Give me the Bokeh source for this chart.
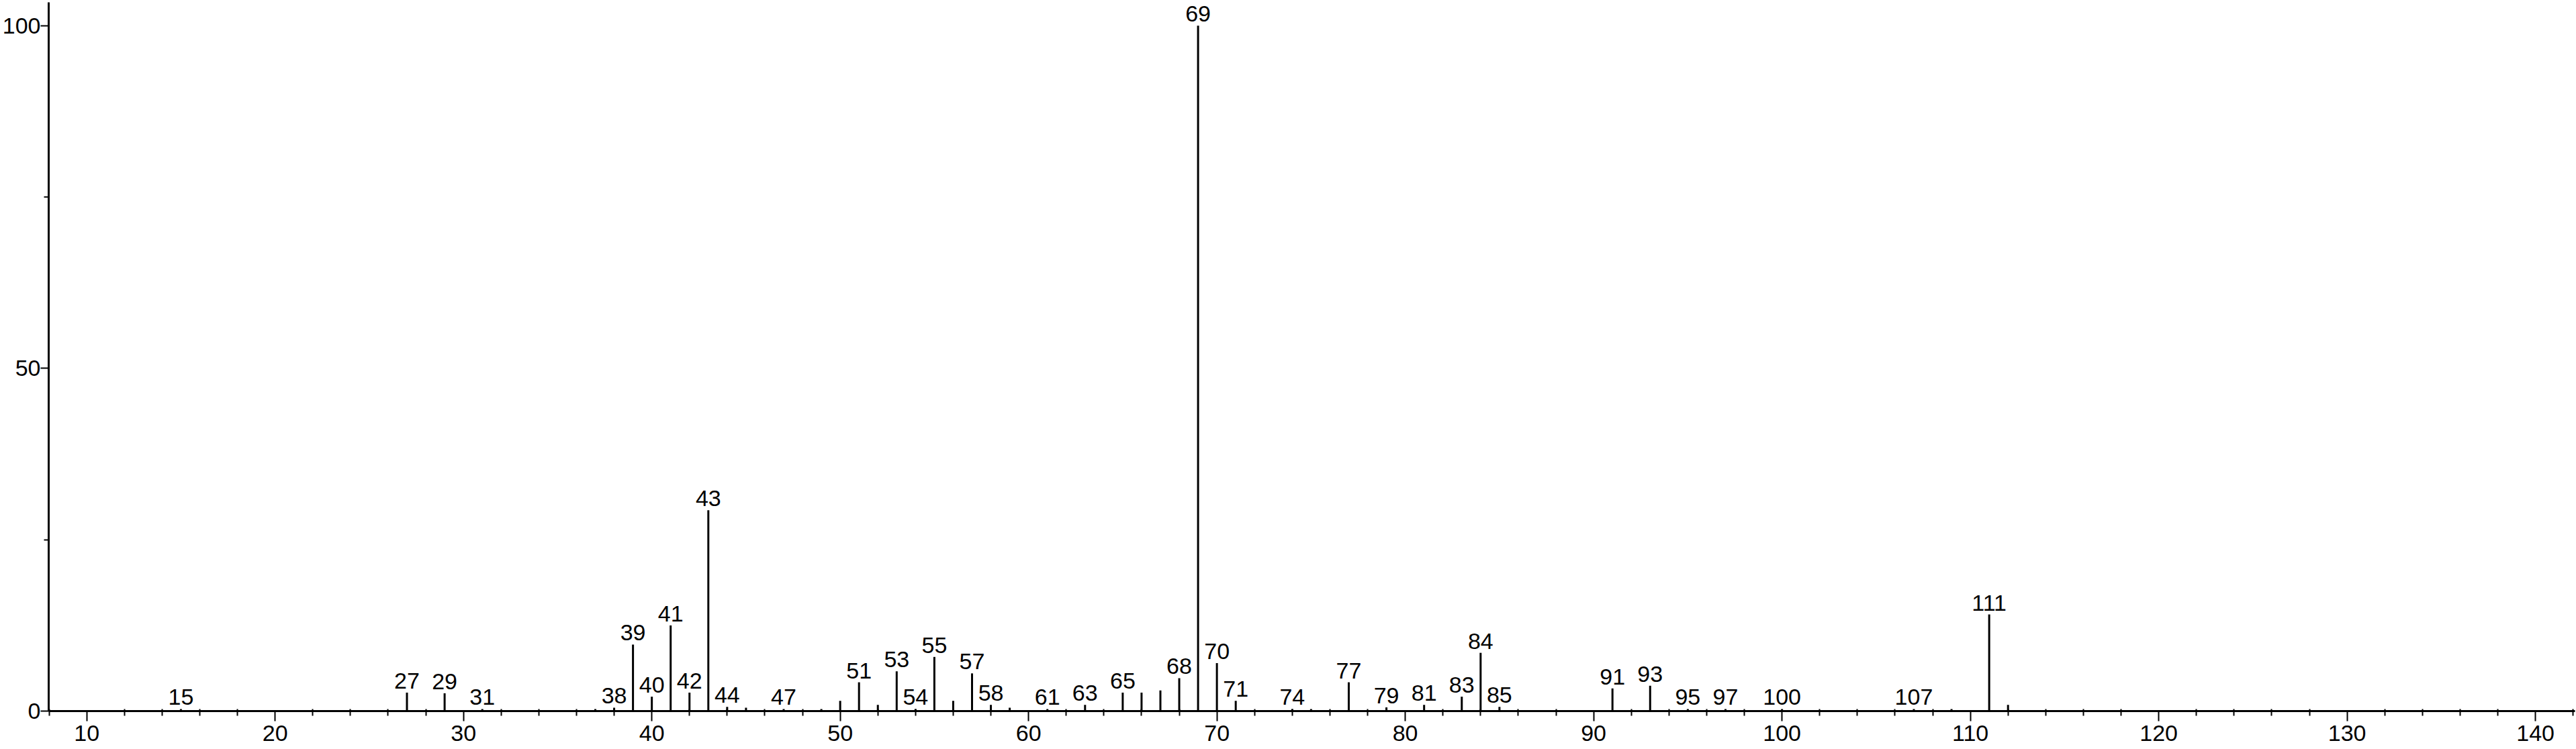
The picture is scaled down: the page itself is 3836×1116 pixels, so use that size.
from bokeh.plotting import figure
from bokeh.models import ColumnDataSource, LabelSet, FixedTicker, Range1d
from bokeh.core.properties import value
from bokeh.embed import file_html
from bokeh.resources import INLINE

# m/z values and relative intensities (%)
mz = [15, 27, 29, 31, 37, 38, 39, 40, 41, 42, 43, 44, 45, 47, 49, 50, 51, 52, 53, 54,
      55, 56, 57, 58, 59, 61, 63, 65, 66, 67, 68, 69, 70, 71, 74, 75, 77, 79, 81, 83,
      84, 85, 91, 93, 95, 97, 100, 107, 109, 111, 112]
intensity = [0.3, 2.7, 2.6, 0.3, 0.3, 0.5, 9.7, 2.1, 12.5, 2.7, 29.3, 0.6, 0.5, 0.3, 0.3, 1.5, 4.2, 0.9, 5.8, 0.3,
             7.9, 1.5, 5.5, 0.9, 0.5, 0.3, 0.9, 2.7, 2.7, 3.0, 4.8, 100.0, 7.0, 1.5, 0.3, 0.3, 4.2, 0.55, 0.9, 2.1,
             8.5, 0.6, 3.3, 3.7, 0.3, 0.3, 0.3, 0.3, 0.3, 14.1, 0.9]

# peaks that carry an m/z label
label_mz = [15, 27, 29, 31, 38, 39, 40, 41, 42, 43, 44, 47, 51, 53, 54, 55, 57, 58, 61, 63,
            65, 68, 69, 70, 71, 74, 77, 79, 81, 83, 84, 85, 91, 93, 95, 97, 100, 107, 111]

x_ticks = [10, 20, 30, 40, 50, 60, 70, 80, 90, 100, 110, 120, 130, 140]
x_minor = [v for v in range(8, 143, 2) if v % 10 != 0]
y_ticks = [0, 50, 100]
y_minor = [25, 75]

FONT = "Liberation Sans"
FS = "34px"

lookup = dict(zip(mz, intensity))
lab_src = ColumnDataSource(dict(x=label_mz, y=[lookup[m] for m in label_mz],
                                text=[str(m) for m in label_mz]))

p = figure(width=3836, height=1116, output_backend="svg", toolbar_location=None,
           x_range=Range1d(7.98, 142.1), y_range=Range1d(0, 103.4),
           min_border_left=69, min_border_right=2, min_border_top=3, min_border_bottom=57)
p.background_fill_color = "white"
p.border_fill_color = "white"
p.outline_line_color = None
p.grid.visible = False

p.segment(x0=mz, y0=[0] * len(mz), x1=mz, y1=intensity, line_color="black", line_width=3)

labels = LabelSet(x="x", y="y", text="text", source=lab_src, text_align="center",
                  text_baseline="alphabetic", y_offset=6, text_font=value(FONT),
                  text_font_size=value(FS), text_color="black")
p.add_layout(labels)

xa = p.xaxis[0]
xa.ticker = FixedTicker(ticks=x_ticks, minor_ticks=x_minor)
xa.axis_line_width = 3
xa.axis_line_color = "black"
xa.major_tick_in = 0
xa.major_tick_out = 15
xa.major_tick_line_width = 2
xa.minor_tick_in = 3
xa.minor_tick_out = 7
xa.minor_tick_line_width = 2
xa.major_label_text_font = FONT
xa.major_label_text_font_size = FS
xa.major_label_text_color = "black"
xa.major_label_text_line_height = 1.0
xa.major_label_standoff = 6

ya = p.yaxis[0]
ya.ticker = FixedTicker(ticks=y_ticks, minor_ticks=y_minor)
ya.axis_line_width = 3
ya.axis_line_color = "black"
ya.major_tick_in = 0
ya.major_tick_out = 12
ya.major_tick_line_width = 2
ya.minor_tick_in = 0
ya.minor_tick_out = 7
ya.minor_tick_line_width = 2
ya.major_label_text_font = FONT
ya.major_label_text_font_size = FS
ya.major_label_text_color = "black"
ya.major_label_standoff = 0

open("out.html", "w").write(file_html(p, INLINE))
